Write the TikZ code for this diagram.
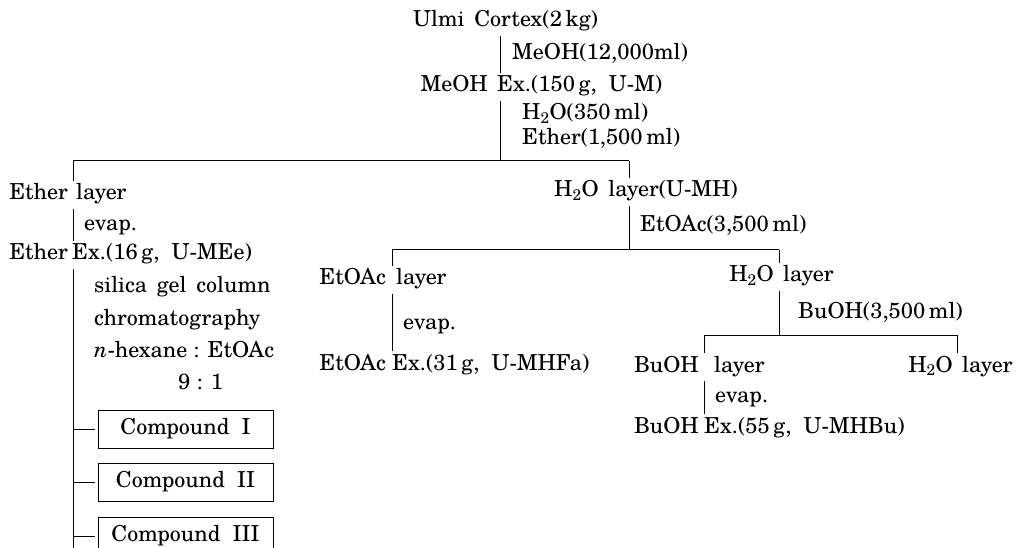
\documentclass[tikz,border=0pt]{standalone}
\usepackage{fontspec}
\setmainfont{TeX Gyre Schola}
\begin{document}
\begin{tikzpicture}[x=1pt,y=-1pt,
  txt/.style={font=\fontsize{22}{26}\selectfont, inner sep=0pt, anchor=west, text height=15pt, text depth=5pt},
  lft/.style={txt, anchor=east},
  ln/.style={line width=1pt},
  vl/.style={ln, shorten <=4pt, shorten >=4pt},
  tick/.style={ln, shorten >=4pt},
  cbox/.style={draw, line width=1pt, font=\fontsize{22}{26}\selectfont, minimum width=175pt, minimum height=38pt, inner sep=0pt}]
\useasboundingbox (0,0) rectangle (1026,548);
% x positions of the vertical lines
\coordinate (t0) at (500,0);
\coordinate (tL) at (73,0);
\coordinate (tH) at (629,0);
\coordinate (tE) at (392,0);
\coordinate (tW) at (779,0);
\coordinate (tB) at (704,0);
\coordinate (tR) at (957,0);
% split lines
\coordinate (s1L) at (73,161);
\coordinate (s1R) at (629,161);
\coordinate (s2L) at (392,250);
\coordinate (s2R) at (779,250);
\coordinate (s3L) at (704,335);
\coordinate (s3R) at (957,335);
\coordinate (bottomL) at (73,560);

% top
\node[txt] (ulmi) at (413,22) {Ulmi\ \,Cortex(2\,kg)};
\node[txt] (meohsolv) at (512,55) {MeOH(12,000ml)};
\node[lft] (meohA) at (488,87) {MeOH};
\node[txt] (meohB) at (497,87) {Ex.(150\,g, \ U-M)};
\node[txt] (watsolv) at (522,115) {H\textsubscript{2}O(350\,ml)};
\node[txt] (ethsolv) at (522,140) {Ether(1,500\,ml)};

% left branch
\node[lft] (etherlayA) at (68,195) {Ether};
\node[txt] (etherlayB) at (76,195) {layer};
\node[txt] (evap1) at (84,226) {evap.};
\node[lft] (etherexA) at (68,255) {Ether};
\node[txt] (etherexB) at (72,255) {Ex.(16\,g, \ U-MEe)};
\node[txt] (silica) at (94,288) {silica\ \,gel\ \,column};
\node[txt] (chrom) at (94,320) {chromatography};
\node[txt] (hex) at (94,352) {\textit{n}-hexane : EtOAc};
\node[txt] (ratio) at (178,384) {9 : 1};
\node[cbox] (cmp1) at (185.5,429) {Compound\ \ I};
\node[cbox] (cmp2) at (185.5,482) {Compound\ \ II};
\node[cbox] (cmp3) at (185.5,536) {Compound\ \ III};

% middle branch
\node[txt] (h2olay) at (554,192) {H\textsubscript{2}O\ \,layer(U-MH)};
\node[txt] (etoacsolv) at (640,227) {EtOAc(3,500\,ml)};
\node[lft] (etoaclayA) at (386,280) {EtOAc};
\node[txt] (etoaclayB) at (396,280) {layer};
\node[txt] (evap2) at (403,325) {evap.};
\node[lft] (etoacexA) at (386,365) {EtOAc};
\node[txt] (etoacexB) at (392,365) {Ex.(31\,g, \ U-MHFa)};

% right branch
\node[lft] (h2olay2A) at (774,277) {H\textsubscript{2}O};
\node[txt] (h2olay2B) at (783,277) {layer};
\node[txt] (buohsolv) at (798,313) {BuOH(3,500\,ml)};
\node[lft] (buohlayA) at (699,367) {BuOH};
\node[txt] (buohlayB) at (714,367) {layer};
\node[txt] (evap3) at (715,397) {evap.};
\node[lft] (buohexA) at (699,428) {BuOH};
\node[txt] (buohexB) at (704,428) {Ex.(55\,g, \ U-MHBu)};
\node[lft] (h2olay3A) at (953,367) {H\textsubscript{2}O};
\node[txt] (h2olay3B) at (962,367) {layer};

% connectors: top
\draw[vl] (ulmi.south -| t0) -- (meohB.north -| t0);
\draw[ln, shorten <=4pt] (meohB.south -| t0) -- (s1L -| t0);
\draw[ln] (s1L) -- (s1R);
\draw[tick] (s1L) -- (etherlayB.north -| s1L);
\draw[tick] (s1R) -- (h2olay.north -| s1R);
% left
\draw[vl] (etherlayB.south -| tL) -- (etherexB.north -| tL);
\draw[ln, shorten <=4pt] (etherexB.south -| tL) -- (bottomL);
\draw[ln, shorten >=3pt] (cmp1.west -| tL) -- (cmp1.west);
\draw[ln, shorten >=3pt] (cmp2.west -| tL) -- (cmp2.west);
\draw[ln, shorten >=3pt] (cmp3.west -| tL) -- (cmp3.west);
% middle
\draw[ln, shorten <=4pt] (h2olay.south -| tH) -- (s2L -| tH);
\draw[ln] (s2L) -- (s2R);
\draw[tick] (s2L) -- (etoaclayB.north -| s2L);
\draw[tick] (s2R) -- (h2olay2B.north -| s2R);
\draw[vl] (etoaclayB.south -| tE) -- (etoacexB.north -| tE);
% right
\draw[ln, shorten <=4pt] (h2olay2B.south -| tW) -- (s3L -| tW);
\draw[ln] (s3L) -- (s3R);
\draw[tick] (s3L) -- (buohlayB.north -| s3L);
\draw[tick] (s3R) -- (h2olay3B.north -| s3R);
\draw[vl] (buohlayB.south -| tB) -- (buohexB.north -| tB);
\end{tikzpicture}
\end{document}
